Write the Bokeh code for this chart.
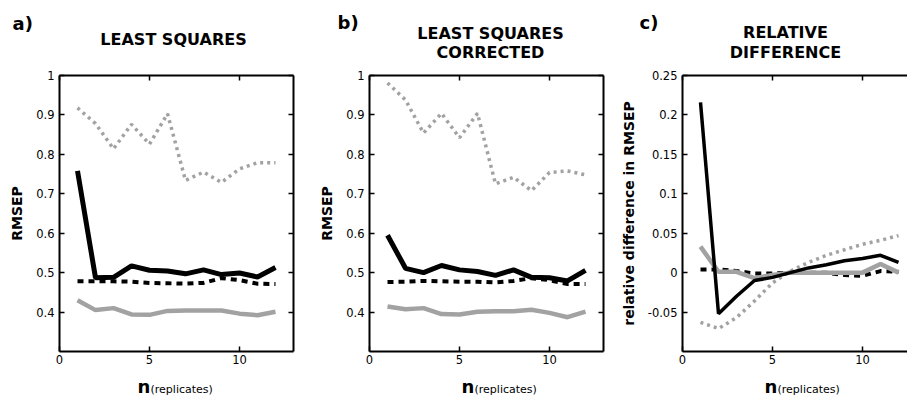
from bokeh.plotting import figure
from bokeh.models import Label, LinearAxis, FixedTicker, Range1d, CustomJSTickFormatter
from bokeh.layouts import row, column
from bokeh.embed import file_html
from bokeh.resources import INLINE

# ---------------- data ----------------
n_rep = [1, 2, 3, 4, 5, 6, 7, 8, 9, 10, 11, 12]

ls_black_solid = [0.758, 0.487, 0.488, 0.517, 0.506, 0.504, 0.497, 0.507, 0.495, 0.499, 0.489, 0.513]
ls_black_dash = [0.478, 0.478, 0.478, 0.477, 0.474, 0.473, 0.472, 0.474, 0.486, 0.481, 0.472, 0.471]
ls_grey_solid = [0.430, 0.405, 0.410, 0.394, 0.393, 0.403, 0.404, 0.404, 0.404, 0.396, 0.392, 0.401]
ls_grey_dot = [0.918, 0.878, 0.814, 0.876, 0.826, 0.903, 0.734, 0.755, 0.729, 0.763, 0.779, 0.779]

lsc_black_solid = [0.595, 0.511, 0.500, 0.518, 0.507, 0.503, 0.493, 0.507, 0.488, 0.487, 0.479, 0.506]
lsc_black_dash = [0.476, 0.477, 0.479, 0.478, 0.477, 0.477, 0.475, 0.479, 0.486, 0.481, 0.471, 0.471]
lsc_grey_solid = [0.414, 0.407, 0.410, 0.395, 0.394, 0.401, 0.402, 0.402, 0.406, 0.398, 0.387, 0.401]
lsc_grey_dot = [0.981, 0.938, 0.854, 0.904, 0.842, 0.904, 0.725, 0.742, 0.708, 0.754, 0.758, 0.748]

rd_black_solid = [0.216, -0.052, -0.030, -0.010, -0.006, 0.000, 0.006, 0.010, 0.015, 0.018, 0.022, 0.013]
rd_black_dash = [0.004, 0.004, 0.002, -0.001, -0.001, 0.000, 0.000, 0.000, -0.003, -0.004, 0.002, 0.001]
rd_grey_solid = [0.033, 0.001, 0.001, -0.007, -0.003, 0.000, 0.000, 0.000, 0.000, 0.000, 0.011, 0.000]
rd_grey_dot = [-0.063, -0.071, -0.057, -0.036, -0.013, 0.002, 0.013, 0.022, 0.029, 0.036, 0.041, 0.047]

x_ticks = [0, 5, 10]
rmsep_ticks = [0.4, 0.5, 0.6, 0.7, 0.8, 0.9, 1]
rd_ticks = [-0.05, 0, 0.05, 0.1, 0.15, 0.2, 0.25]

panel_letters = ["a)", "b)", "c)"]
panel_titles = [["LEAST SQUARES"], ["LEAST SQUARES", "CORRECTED"], ["RELATIVE", "DIFFERENCE"]]
y_labels = ["RMSEP", "RMSEP", "relative difference in RMSEP"]
x_label_main = "n"
x_label_sub = "(replicates)"

FONT = "DejaVu Sans"
GREY = "#a2a2a2"
W, H = 907, 398
HEAD_H, FOOT_H = 70, 30
ROW_H = H - HEAD_H - FOOT_H


def style_axis(ax, ticks, labels=True, standoff=5):
    ax.ticker = FixedTicker(ticks=ticks)
    ax.axis_line_width = 2
    ax.axis_line_color = "black"
    ax.major_tick_in = 5
    ax.major_tick_out = 0
    ax.major_tick_line_width = 1.5
    ax.major_tick_line_color = "black"
    ax.minor_tick_line_color = None
    ax.major_label_text_font = FONT
    ax.formatter = CustomJSTickFormatter(code="return String(tick);")
    if labels:
        ax.major_label_text_font_size = "11.5px"
        ax.major_label_text_color = "black"
        ax.major_label_standoff = standoff
    else:
        ax.major_label_text_font_size = "0px"
        ax.major_label_text_color = None
        ax.major_label_standoff = 0


def make_panel(width, bl, br, xr, yr, yticks, ylab, right_axis=True):
    p = figure(width=width, height=ROW_H, x_range=Range1d(*xr), y_range=Range1d(*yr),
               output_backend="svg", toolbar_location=None,
               min_border_left=bl, min_border_right=br, min_border_top=5, min_border_bottom=17)
    p.outline_line_color = None
    p.grid.visible = False
    p.background_fill_color = "white"
    p.border_fill_color = "white"
    style_axis(p.xaxis[0], x_ticks, standoff=3)
    style_axis(p.yaxis[0], yticks)
    p.yaxis[0].axis_label = ylab
    p.yaxis[0].axis_label_text_font = FONT
    p.yaxis[0].axis_label_text_font_style = "bold"
    p.yaxis[0].axis_label_text_font_size = "14px"
    p.yaxis[0].axis_label_text_color = "black"
    p.yaxis[0].axis_label_standoff = 8
    top = LinearAxis()
    style_axis(top, x_ticks, labels=False)
    p.add_layout(top, "above")
    if right_axis:
        rgt = LinearAxis()
        style_axis(rgt, yticks, labels=False)
        p.add_layout(rgt, "right")
    return p


def draw_lines(p, black_solid, black_dash, grey_solid, grey_dot, bw):
    p.line(n_rep, grey_dot, line_color=GREY, line_width=3.5, line_dash="3 4")
    p.line(n_rep, black_dash, line_color="black", line_width=4, line_dash="6 5")
    p.line(n_rep, grey_solid, line_color=GREY, line_width=4.5)
    p.line(n_rep, black_solid, line_color="black", line_width=bw)


def text_strip(height, y_top):
    # a blank strip whose data units are page pixels (x from the left, y from the top)
    p = figure(width=W, height=height, x_range=Range1d(0, W), y_range=Range1d(y_top + height, y_top),
               output_backend="svg", toolbar_location=None, min_border=0)
    p.axis.visible = False
    p.grid.visible = False
    p.outline_line_color = None
    return p


def put(p, px, py, text, size, bold=False, align="left", baseline="middle"):
    p.add_layout(Label(x=px, y=py, text=text, text_font=FONT, text_font_size=size,
                       text_font_style="bold" if bold else "normal", text_color="black",
                       text_align=align, text_baseline=baseline))


pa = make_panel(300, 59, 7, (0, 13), (0.3, 1.0), rmsep_ticks, y_labels[0])
pb = make_panel(310, 69, 7, (0, 13), (0.3, 1.0), rmsep_ticks, y_labels[1])
pc = make_panel(297, 72, 0, (0, 12.5), (-0.1, 0.25), rd_ticks, y_labels[2], right_axis=False)

draw_lines(pa, ls_black_solid, ls_black_dash, ls_grey_solid, ls_grey_dot, 5)
draw_lines(pb, lsc_black_solid, lsc_black_dash, lsc_grey_solid, lsc_grey_dot, 5)
draw_lines(pc, rd_black_solid, rd_black_dash, rd_grey_solid, rd_grey_dot, 3.5)

head = text_strip(HEAD_H, 0)
foot = text_strip(FOOT_H, H - FOOT_H)

# panel letters
put(head, 12, 23, panel_letters[0], "18px", bold=True)
put(head, 337, 22, panel_letters[1], "18px", bold=True)
put(head, 639, 22, panel_letters[2], "18px", bold=True)

# titles
put(head, 173, 39, panel_titles[0][0], "16px", bold=True, align="center")
put(head, 490, 33, panel_titles[1][0], "16px", bold=True, align="center")
put(head, 490, 52, panel_titles[1][1], "16px", bold=True, align="center")
put(head, 785, 32, panel_titles[2][0], "16px", bold=True, align="center")
put(head, 785, 52, panel_titles[2][1], "16px", bold=True, align="center")

# x labels
for nx, sx in [(137, 150), (461, 474), (764, 777)]:
    put(foot, nx, 386, x_label_main, "18px", bold=True, baseline="alphabetic")
    put(foot, sx, 389, x_label_sub, "11px", baseline="alphabetic")

layout = column(head, row(pa, pb, pc), foot)
open("out.html", "w").write(file_html(layout, INLINE))
